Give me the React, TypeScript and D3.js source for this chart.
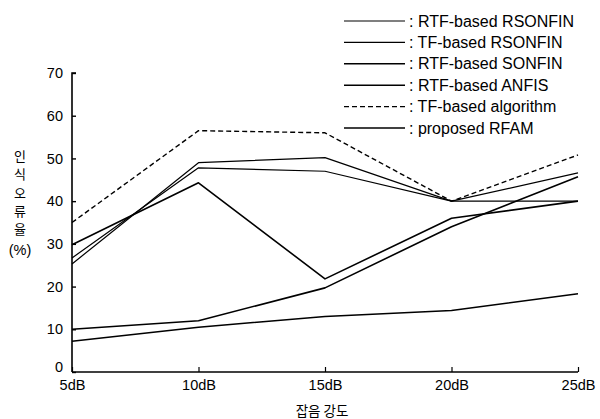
import React, { useEffect, useRef } from "react";
import * as d3 from "d3";

const categories = ["5dB", "10dB", "15dB", "20dB", "25dB"];
const yTicks = [0, 10, 20, 30, 40, 50, 60, 70];
const seriesNames = [
  ": RTF-based RSONFIN",
  ": TF-based RSONFIN",
  ": RTF-based SONFIN",
  ": RTF-based ANFIS",
  ": TF-based algorithm",
  ": proposed RFAM",
];
const rtfRsonfin = [26.7, 47.8, 47.0, 40.0, 40.0];
const tfRsonfin = [25.3, 49.0, 50.2, 40.0, 46.6];
const rtfSonfin = [10.0, 12.0, 19.7, 34.0, 45.7];
const rtfAnfis = [29.8, 44.3, 21.8, 36.0, 40.0];
const tfAlgorithm = [35.0, 56.5, 56.0, 40.0, 50.8];
const proposedRfam = [7.2, 10.5, 13.0, 14.4, 18.3];
const seriesValues = [rtfRsonfin, tfRsonfin, rtfSonfin, rtfAnfis, tfAlgorithm, proposedRfam];
const seriesDash = ["", "", "", "", "5,3", ""];
const seriesWidth = [1.2, 1.2, 1.6, 1.6, 1.4, 1.5];
const yLabelChars = ["인", "식", "오", "류", "율", "(%)"];
const xTitle = "잡음 강도";

export default function App() {
  const ref = useRef<SVGSVGElement>(null);
  useEffect(() => {
    const svg = d3.select(ref.current);
    svg.selectAll("*").remove();
    const x = d3.scalePoint<string>().domain(categories).range([72, 578]);
    const y = d3.scaleLinear().domain([0, 70]).range([372, 73]);
    const font = "'Liberation Sans', Arial, sans-serif";

    const yAxis = svg.append("g").attr("transform", "translate(72,0)")
      .call(d3.axisLeft(y).tickValues(yTicks).tickSize(-4).tickPadding(9).tickFormat(d3.format("d")));
    yAxis.select(".domain").attr("stroke", "#000").attr("stroke-width", 1.6).attr("d", `M4,${y(70)}H0V${y(0)}`);
    yAxis.selectAll("line").attr("stroke", "#000").attr("stroke-width", 1.4);
    yAxis.selectAll("text").attr("font-family", font).attr("font-size", 14.5).attr("fill", "#000");
    yAxis.selectAll<SVGTextElement, number>("text").filter((d) => d === 0).attr("dy", "-0.05em");

    const xAxis = svg.append("g").attr("transform", "translate(0,372)")
      .call(d3.axisBottom(x).tickSize(-5).tickPadding(4));
    xAxis.select(".domain").attr("stroke", "#000").attr("stroke-width", 1.6).attr("d", `M72,0H578`);
    xAxis.selectAll("line").attr("stroke", "#000").attr("stroke-width", 1.2);
    xAxis.selectAll("text").attr("font-family", font).attr("font-size", 14.5).attr("fill", "#000").attr("dy", "0.95em");

    const line = d3.line<number>().x((_, i) => x(categories[i]) as number).y((d) => y(d));
    seriesValues.forEach((vals, i) => {
      svg.append("path").attr("d", line(vals) as string).attr("fill", "none")
        .attr("stroke", "#000").attr("stroke-width", seriesWidth[i])
        .attr("stroke-dasharray", seriesDash[i]).attr("stroke-linejoin", "round");
    });

    const leg = svg.append("g");
    seriesNames.forEach((name, i) => {
      const yy = 21 + i * 21.4;
      leg.append("line").attr("x1", 344).attr("x2", 405).attr("y1", yy).attr("y2", yy)
        .attr("stroke", "#000").attr("stroke-width", seriesWidth[i]).attr("stroke-dasharray", seriesDash[i]);
      leg.append("text").attr("x", 409).attr("y", yy).attr("dy", "0.35em")
        .attr("font-family", font).attr("font-size", 16).attr("fill", "#000").text(name);
    });

    const yPos = [156, 174, 193, 211, 229, 250];
    yLabelChars.forEach((c, i) => {
      svg.append("text").attr("x", 20).attr("y", yPos[i]).attr("dy", "0.35em").attr("text-anchor", "middle")
        .attr("font-family", i === 5 ? font : "'Noto Sans CJK KR', sans-serif")
        .attr("font-size", i === 5 ? 14.5 : 13).attr("fill", "#000").text(c);
    });

    svg.append("text").attr("x", 322).attr("y", 411).attr("dy", "0.35em").attr("text-anchor", "middle")
      .attr("font-family", "'Noto Sans CJK KR', sans-serif").attr("font-size", 13.5).attr("fill", "#000").text(xTitle);
  }, []);
  return (
    <svg ref={ref} width={600} height={419} style={{ position: "absolute", left: 0, top: 0, background: "#fff" }} />
  );
}
